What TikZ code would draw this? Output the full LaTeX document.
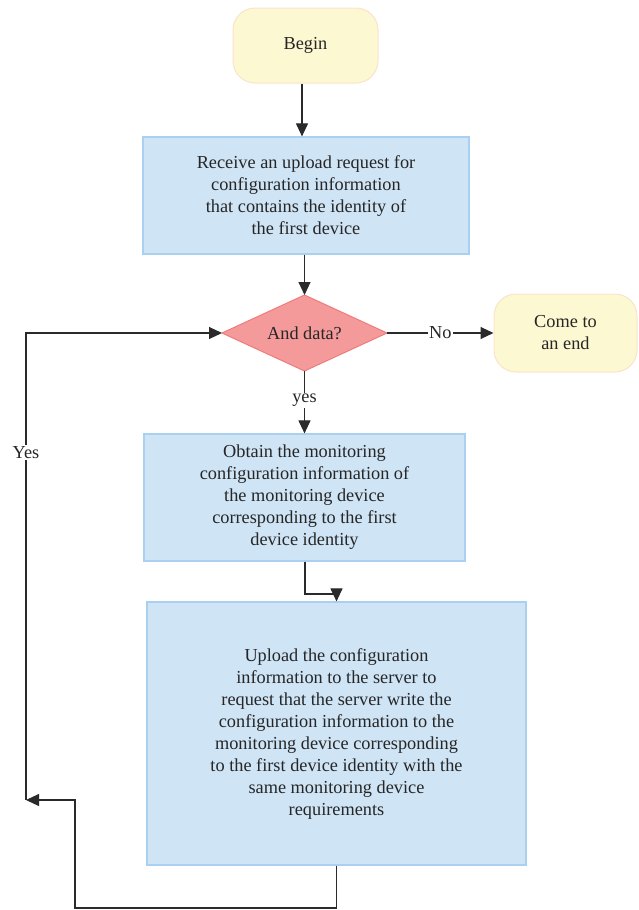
\documentclass[tikz,border=0pt]{standalone}
\usepackage{fontspec}
\setmainfont{Liberation Serif}
\usetikzlibrary{arrows.meta,shapes.geometric}
\definecolor{stepfill}{HTML}{CFE4F5}
\definecolor{stepline}{HTML}{A9D0F2}
\definecolor{termfill}{HTML}{FCF8D1}
\definecolor{termline}{HTML}{FBE3CB}
\definecolor{decfill}{HTML}{F59A9A}
\definecolor{decline}{HTML}{F07B7B}
\definecolor{wire}{HTML}{2A2A2A}
\begin{document}
\begin{tikzpicture}[x=1pt,y=-1pt,
  every node/.style={font=\fontsize{18.3}{22}\selectfont, text=black!85},
  terminal/.style={draw=termline, fill=termfill, line width=1pt, rounded corners=22pt, align=center, inner sep=0pt},
  stepbox/.style={draw=stepline, fill=stepfill, line width=1.2pt, align=center, inner sep=0pt},
  decision/.style={diamond, aspect=2.17, draw=decline, fill=decfill, line width=1pt, inner sep=0pt, outer sep=0pt, minimum width=165pt, minimum height=76pt},
  flow/.style={draw=wire, line width=1.1pt, -{Triangle[length=13pt,width=12pt]}},
  tag/.style={fill=white, inner sep=1.5pt}]
\useasboundingbox (0,0) rectangle (638,910);

% nodes
\node[terminal, minimum width=145pt, minimum height=75pt] (begin) at (305.5,45.5) {Begin};
\node[stepbox, minimum width=326pt, minimum height=117pt] (receive) at (306,195.5)
  {Receive an upload request for\\configuration information\\that contains the identity of\\the first device};
\node[decision] (check) at (304.5,333) {And data?};
\node[terminal, minimum width=143pt, minimum height=78pt] (finish) at (565.5,333) {Come to\\an end};
\node[stepbox, minimum width=321pt, minimum height=127pt] (obtain) at (304.5,497.5)
  {Obtain the monitoring\\configuration information of\\the monitoring device\\corresponding to the first\\device identity};
\node[stepbox, minimum width=379pt, minimum height=263pt] (upload) at (336.5,733.5)
  {Upload the configuration\\information to the server to\\request that the server write the\\configuration information to the\\monitoring device corresponding\\to the first device identity with the\\same monitoring device\\requirements};

% loop-back corners
\coordinate (bend) at (305,594);
\coordinate (loopbot) at (75,908);
\coordinate (loopin) at (26,800);

% connectors
\draw[flow] (begin.south -| 302,0) -- (receive.north -| 302,0);
\draw[flow] (receive.south -| check.north) -- (check.north);
\draw[flow] (check.east) -- node[tag]{No} (finish.west);
\draw[flow] (check.south) -- node[tag, pos=0.47]{yes} (obtain.north -| check.south);
\draw[flow] (obtain.south -| bend) -- (bend) -| (upload.north);
\draw[flow] (upload.south) |- (loopbot) |- (loopin);
\draw[flow] (loopin) |- node[tag, pos=0.372]{Yes} (check.west);
\end{tikzpicture}
\end{document}
